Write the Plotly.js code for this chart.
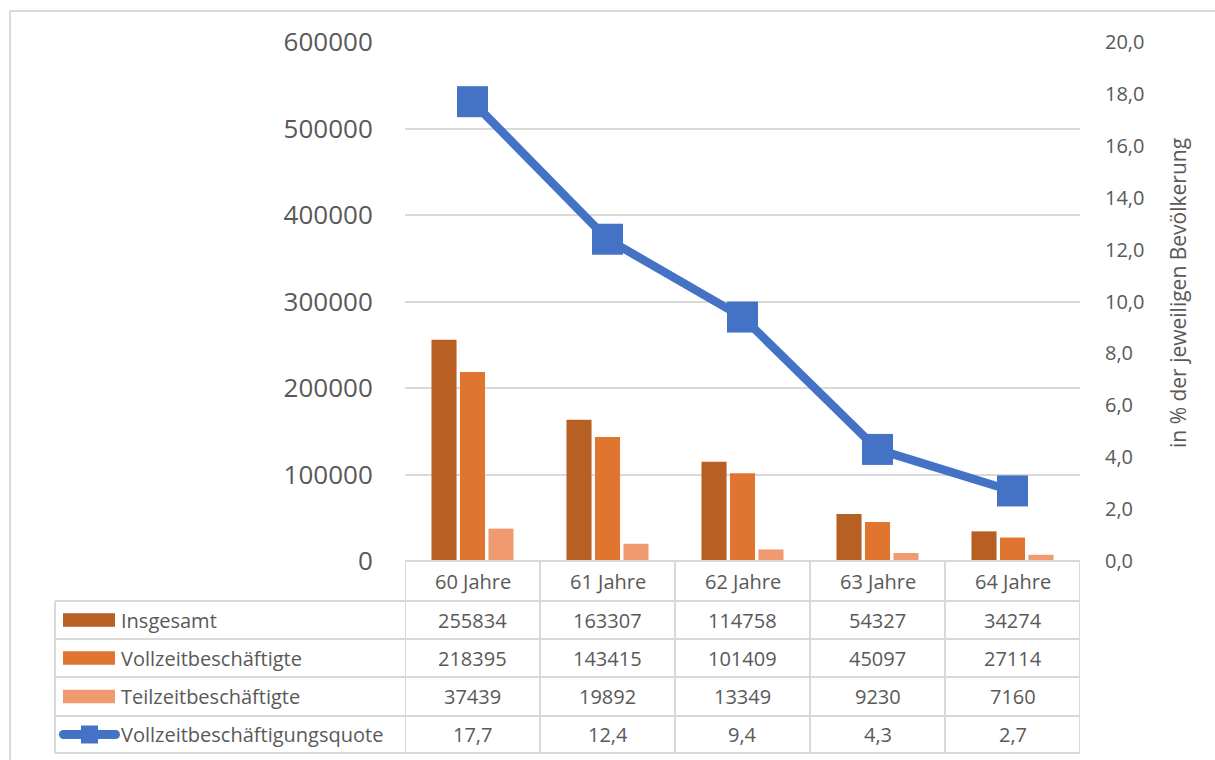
<!DOCTYPE html>
<html>
<head>
<meta charset="utf-8">
<script src="https://cdn.plot.ly/plotly-3.0.1.min.js"></script>
<style>html,body{margin:0;padding:0;background:#fff;}#chart{width:1215px;height:760px;}</style>
</head>
<body>
<div id="chart"></div>
<script>
// ---- data ----
const categories = ["60 Jahre", "61 Jahre", "62 Jahre", "63 Jahre", "64 Jahre"];
const insgesamt = [255834, 163307, 114758, 54327, 34274];
const vollzeit = [218395, 143415, 101409, 45097, 27114];
const teilzeit = [37439, 19892, 13349, 9230, 7160];
const quote = [17.7, 12.4, 9.4, 4.3, 2.7];
const seriesNames = ["Insgesamt", "Vollzeitbeschäftigte", "Teilzeitbeschäftigte", "Vollzeitbeschäftigungsquote"];
const rightTitle = "in % der jeweiligen Bevölkerung";

// ---- style ----
const W = 1215, H = 760;
const L = 405, R = 1080, T = 42, B = 561;
const colors = ["#B85F24", "#E07530", "#F09A72", "#4472C4"];
const txt = "#595959";
const grid = "#D9D9D9";
const FONT = "Open Sans, Liberation Sans, Arial, sans-serif";

const px = x => (x - L) / (R - L);
const py = y => (B - y) / (B - T);

const traces = [
  {type: "bar", name: seriesNames[0], x: categories, y: insgesamt, marker: {color: colors[0]}, hoverinfo: "skip"},
  {type: "bar", name: seriesNames[1], x: categories, y: vollzeit, marker: {color: colors[1]}, hoverinfo: "skip"},
  {type: "bar", name: seriesNames[2], x: categories, y: teilzeit, marker: {color: colors[2]}, hoverinfo: "skip"},
  {type: "scatter", mode: "lines+markers", name: seriesNames[3], x: categories, y: quote, yaxis: "y2",
   line: {color: colors[3], width: 8.5}, marker: {symbol: "square", size: 31, color: colors[3]}, hoverinfo: "skip"}
];

const shapes = [];
const annotations = [];
const line = (x0, y0, x1, y1, xref, yref) => shapes.push({type: "line", xref: xref || "paper", yref: yref || "paper",
  x0, y0, x1, y1, line: {color: grid, width: 2}, layer: "above"});

// outer border
line(px(10), py(11), px(1216), py(11));
line(px(10), py(11), px(10), py(761));

// table rows (y pixel)
const rowY = [561, 601, 639, 677, 716, 753];
line(px(L), py(rowY[0]), px(R), py(rowY[0]));
for (let i = 1; i < rowY.length; i++) line(px(55), py(rowY[i]), px(R), py(rowY[i]));
for (let i = 0; i <= categories.length; i++) {
  shapes.push({type: "line", xref: "x", yref: "paper", x0: i - 0.5, x1: i - 0.5, y0: py(rowY[0]), y1: py(rowY[5]),
    line: {color: grid, width: 2}, layer: "above"});
}
line(px(55), py(rowY[1]), px(55), py(rowY[5]));

// category labels and values
const rows = [insgesamt, vollzeit, teilzeit, quote];
categories.forEach((c, i) => {
  annotations.push({xref: "x", yref: "paper", x: i, y: py((rowY[0] + rowY[1]) / 2), text: c, showarrow: false,
    xanchor: "center", yanchor: "middle", font: {family: FONT, size: 20, color: txt}});
  rows.forEach((r, k) => {
    const v = k === 3 ? r[i].toFixed(1).replace(".", ",") : String(r[i]);
    annotations.push({xref: "x", yref: "paper", x: i, y: py((rowY[k + 1] + rowY[k + 2]) / 2), text: v, showarrow: false,
      xanchor: "center", yanchor: "middle", font: {family: FONT, size: 20, color: txt}});
  });
});

// legend keys in table
seriesNames.forEach((n, k) => {
  const cy = (rowY[k + 1] + rowY[k + 2]) / 2;
  if (k < 3) {
    shapes.push({type: "rect", xref: "paper", yref: "paper", x0: px(63), x1: px(115), y0: py(cy - 6.8), y1: py(cy + 6.8),
      fillcolor: colors[k], line: {width: 0}, layer: "above"});
  } else {
    shapes.push({type: "path", xref: "paper", yref: "paper",
      path: `M ${px(63)} ${py(cy)} L ${px(115)} ${py(cy)}`, line: {color: colors[3], width: 9}, layer: "above"});
    shapes.push({type: "circle", xref: "paper", yref: "paper", x0: px(59), x1: px(68), y0: py(cy - 4.5), y1: py(cy + 4.5),
      fillcolor: colors[3], line: {width: 0}, layer: "above"});
    shapes.push({type: "circle", xref: "paper", yref: "paper", x0: px(111), x1: px(120), y0: py(cy - 4.5), y1: py(cy + 4.5),
      fillcolor: colors[3], line: {width: 0}, layer: "above"});
    shapes.push({type: "rect", xref: "paper", yref: "paper", x0: px(81), x1: px(98), y0: py(cy - 9), y1: py(cy + 9),
      fillcolor: colors[3], line: {width: 0}, layer: "above"});
  }
  annotations.push({xref: "paper", yref: "paper", x: px(119), y: py(cy), text: n, showarrow: false,
    xanchor: "left", yanchor: "middle", font: {family: FONT, size: 20, color: txt}});
});

// right axis title
annotations.push({xref: "paper", yref: "paper", x: px(1178), y: py(293), text: rightTitle, textangle: -90, showarrow: false,
  xanchor: "center", yanchor: "middle", font: {family: FONT, size: 21, color: txt}});

const layout = {
  width: W, height: H,
  margin: {l: L, r: W - R, t: T, b: H - B, pad: 0},
  paper_bgcolor: "#fff", plot_bgcolor: "#fff",
  showlegend: false,
  separators: ",.",
  barmode: "group", bargap: 0.367, bargroupgap: 0.12,
  xaxis: {type: "category", range: [-0.5, 4.5], showticklabels: false, showgrid: false, zeroline: false, showline: false, ticks: "", fixedrange: true},
  yaxis: {range: [0, 600000], dtick: 100000, tickformat: "d", showgrid: true, gridcolor: grid, gridwidth: 2,
    zeroline: false, showline: false, ticks: "outside", ticklen: 26, tickcolor: "rgba(0,0,0,0)",
    tickfont: {family: FONT, size: 26, color: txt}, fixedrange: true},
  yaxis2: {overlaying: "y", side: "right", range: [0, 20], dtick: 2, tickformat: ".1f", showgrid: false, zeroline: false,
    showline: false, ticks: "outside", ticklen: 20, tickcolor: "rgba(0,0,0,0)",
    tickfont: {family: FONT, size: 20, color: txt}, fixedrange: true},
  shapes, annotations
};

Plotly.newPlot("chart", traces, layout, {displayModeBar: false, staticPlot: true});
</script>
</body>
</html>
